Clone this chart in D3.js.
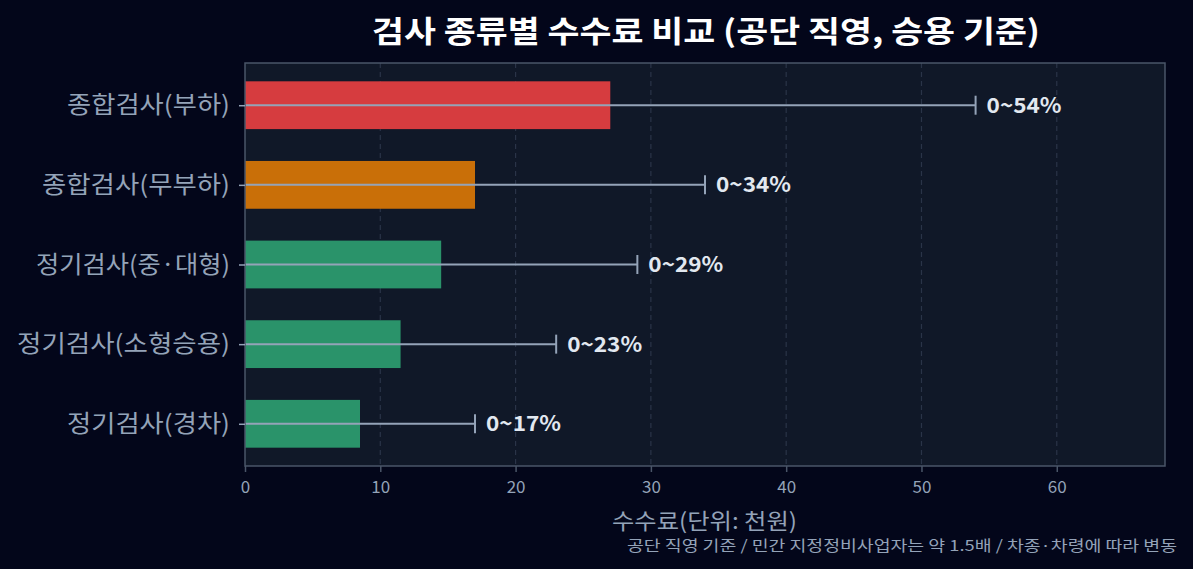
<!DOCTYPE html>
<html><head><meta charset="utf-8">
<script src="https://cdn.jsdelivr.net/npm/d3@7"></script>
<style>
html,body{margin:0;padding:0;background:#03061a;}
svg{display:block;}
text{font-family:"Noto Sans CJK KR","Noto Sans",sans-serif;}
</style></head>
<body><svg id="chart" width="1193" height="569"></svg>
<script>
const categories = ["종합검사(부하)","종합검사(무부하)","정기검사(중·대형)","정기검사(소형승용)","정기검사(경차)"];
const fees = [27, 17, 14.5, 11.5, 8.5];
const ranges = [54, 34, 29, 23, 17];
const rangeLabels = ["0~54%","0~34%","0~29%","0~23%","0~17%"];
const barColors = ["#d63c3f","#c96f08","#2a936a","#2a936a","#2a936a"];
const xTicks = [0,10,20,30,40,50,60];

const svg = d3.select("#chart");
const L = 245, R = 1165, T = 63, B = 466;

svg.append("rect").attr("width",1193).attr("height",569).attr("fill","#03061a");
svg.append("rect").attr("x",L).attr("y",T).attr("width",R-L).attr("height",B-T).attr("fill","#101828");

const x = d3.scaleLinear().domain([0,68]).range([L,R]);
const yi = d3.scaleLinear().domain([-0.53, 4.53]).range([T,B]);
const barH = yi(0.3) - yi(-0.3);

// grid
svg.append("g").selectAll("line").data(xTicks.slice(1)).join("line")
  .attr("x1",d=>x(d)).attr("x2",d=>x(d)).attr("y1",T).attr("y2",B)
  .attr("stroke","#2a3448").attr("stroke-width",1.2).attr("stroke-dasharray","5,4");

// bars
svg.append("g").selectAll("rect").data(categories).join("rect")
  .attr("x",x(0)).attr("y",(d,i)=>yi(i)-barH/2)
  .attr("width",(d,i)=>x(fees[i])-x(0)).attr("height",barH)
  .attr("fill",(d,i)=>barColors[i]);

// error bars
const eg = svg.append("g");
categories.forEach((c,i)=>{
  eg.append("line").attr("x1",x(0)).attr("x2",x(ranges[i])).attr("y1",yi(i)).attr("y2",yi(i))
    .attr("stroke","#94a3b8").attr("stroke-width",2);
  eg.append("line").attr("x1",x(ranges[i])).attr("x2",x(ranges[i])).attr("y1",yi(i)-9.5).attr("y2",yi(i)+9.5)
    .attr("stroke","#94a3b8").attr("stroke-width",2);
  eg.append("text").attr("x",x(ranges[i])+11).attr("y",yi(i)).attr("dy","0.36em")
    .attr("fill","#e2e8f0").attr("font-size",21).attr("font-weight","bold")
    .attr("textLength",75).attr("lengthAdjust","spacingAndGlyphs").text(rangeLabels[i]);
});

// frame
svg.append("rect").attr("x",L).attr("y",T).attr("width",R-L).attr("height",B-T)
  .attr("fill","none").attr("stroke","#4a5568").attr("stroke-width",1.5);

// x axis
const xa = svg.append("g").attr("transform",`translate(0,${B})`)
  .call(d3.axisBottom(x).tickValues(xTicks).tickSize(6).tickPadding(9).tickFormat(d3.format("d")));
xa.select(".domain").remove();
xa.selectAll("line").attr("stroke","#4a5568").attr("stroke-width",1.5);
xa.selectAll("text").attr("fill","#94a3b8").attr("font-size",17).style("font-family","'Noto Sans CJK KR',sans-serif");

// y axis
const yLabelWidths = [163,188,194,213,163];
const ya = svg.append("g").attr("transform",`translate(${L},0)`)
  .call(d3.axisLeft(d3.scalePoint().domain(categories).range([yi(0),yi(4)])).tickSize(6).tickPadding(9));
ya.select(".domain").remove();
ya.selectAll("line").attr("stroke","#94a3b8").attr("stroke-width",1.5);
ya.selectAll("text").attr("fill","#94a3b8").attr("font-size",24)
  .attr("textLength",(d,i)=>yLabelWidths[i]).attr("lengthAdjust","spacingAndGlyphs")
  .style("font-family","'Noto Sans CJK KR',sans-serif");

// title
svg.append("text").attr("x",372).attr("y",42)
  .attr("fill","#ffffff").attr("font-size",30).attr("font-weight","bold")
  .attr("textLength",668).attr("lengthAdjust","spacingAndGlyphs")
  .text("검사 종류별 수수료 비교 (공단 직영, 승용 기준)");

// x label
svg.append("text").attr("x",612).attr("y",529)
  .attr("fill","#94a3b8").attr("font-size",22)
  .attr("textLength",185).attr("lengthAdjust","spacingAndGlyphs").text("수수료(단위: 천원)");

// footnote
svg.append("text").attr("x",627).attr("y",551)
  .attr("fill","#94a3b8").attr("font-size",15)
  .attr("textLength",550).attr("lengthAdjust","spacingAndGlyphs")
  .text("공단 직영 기준 / 민간 지정정비사업자는 약 1.5배 / 차종·차령에 따라 변동");
</script></body></html>
